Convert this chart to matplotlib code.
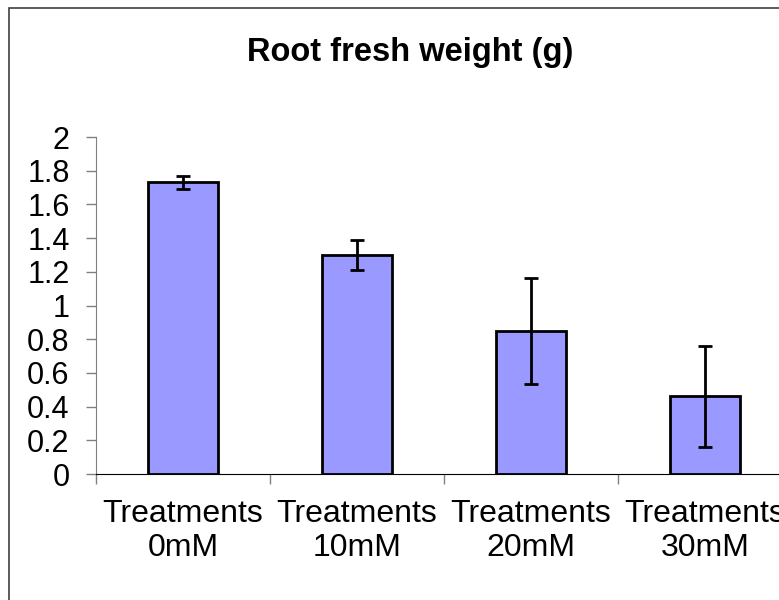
import matplotlib
matplotlib.use('agg')
import matplotlib.pyplot as plt
from matplotlib.patches import Rectangle

plt.rcParams['font.family'] = ['Liberation Sans', 'DejaVu Sans']

categories = ["Treatments\n0mM", "Treatments\n10mM", "Treatments\n20mM", "Treatments\n30mM"]
means = [1.73, 1.30, 0.85, 0.46]
errors = [0.036, 0.088, 0.316, 0.30]
yticks = [0, 0.2, 0.4, 0.6, 0.8, 1, 1.2, 1.4, 1.6, 1.8, 2]
ytick_labels = ["0", "0.2", "0.4", "0.6", "0.8", "1", "1.2", "1.4", "1.6", "1.8", "2"]

W, H = 779, 600
fig = plt.figure(figsize=(W / 100, H / 100), dpi=100)

# chart-area border (right and bottom edges fall outside the picture)
fig.patches.append(Rectangle((9 / W, -0.1), 1.2, 1 - 8 / H + 0.1,
                             transform=fig.transFigure, fill=False,
                             edgecolor='#404040', linewidth=1.2))

ax = fig.add_axes([96 / W, 126 / H, 696 / W, 337 / H])
x = list(range(len(categories)))
ax.bar(x, means, width=0.4, color='#9999FF', edgecolor='black', linewidth=2,
       zorder=2)
ax.errorbar(x, means, yerr=errors, fmt='none', ecolor='black', elinewidth=2,
            capsize=5, capthick=2, zorder=3)

ax.set_xlim(-0.5, len(categories) - 0.5)
ax.set_ylim(0, 2)
ax.set_yticks(yticks)
ax.set_yticklabels(ytick_labels, fontsize=22)
ax.tick_params(axis='y', direction='out', length=7, width=1, color='#808080',
               pad=12)

# category boundaries as major ticks, labels on minor ticks at centres
ax.set_xticks([i - 0.5 for i in range(len(categories) + 1)])
ax.set_xticklabels([])
ax.set_xticks(x, minor=True)
ax.set_xticklabels(categories, minor=True, fontsize=23, linespacing=1.18)
ax.tick_params(axis='x', which='major', direction='out', length=7, width=1,
               color='#808080')
ax.tick_params(axis='x', which='minor', length=0, pad=18)

for s in ['top', 'right']:
    ax.spines[s].set_visible(False)
ax.spines['left'].set_color('#808080')
ax.spines['bottom'].set_color('black')
ax.spines['bottom'].set_zorder(4)

fig.text(410 / W, 1 - 52 / H, "Root fresh weight (g)", ha='center',
         va='center', fontsize=23.5, fontweight='bold')

fig.savefig('out.png', dpi=100)
